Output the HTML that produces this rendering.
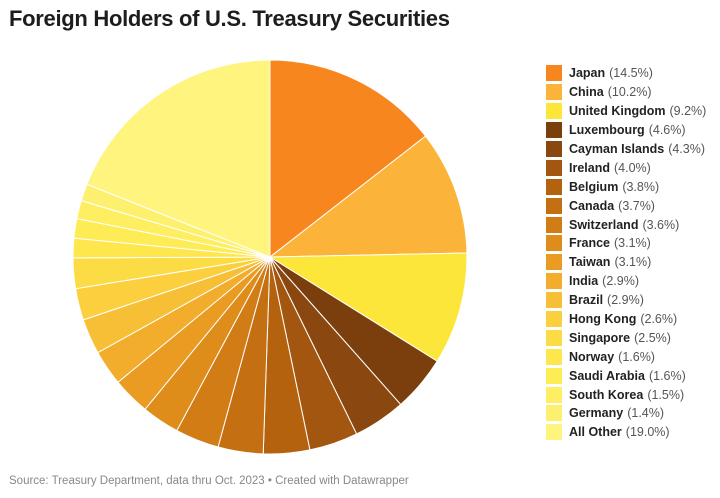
<!DOCTYPE html>
<html><head><meta charset="utf-8"><style>
body{margin:0;width:720px;height:498px;background:#fff;font-family:"Liberation Sans",sans-serif;overflow:hidden;position:relative}
h1{position:absolute;left:9px;top:6px;margin:0;font-size:22px;font-weight:bold;color:#1d1d1d;letter-spacing:-0.3px}
.src{position:absolute;left:9px;top:475px;font-size:11.5px;color:#888}
.leg{position:absolute;left:546px;top:64px}
.row{height:18.9px;display:flex;align-items:center;font-size:12.5px;color:#333}
.sw{width:16px;height:16px;margin-right:7px}
.row b{color:#222;margin-right:4px}
.row span{color:#555}
</style></head><body>
<h1>Foreign Holders of U.S. Treasury Securities</h1>
<svg id="pie" width="720" height="498" style="position:absolute;left:0;top:0"></svg>
<div class="leg" id="leg"></div>
<div class="src">Source: Treasury Department, data thru Oct. 2023 • Created with Datawrapper</div>
<script>
var d=[["Japan",14.5,"#f7861f"],["China",10.2,"#fbb33a"],["United Kingdom",9.2,"#fde63a"],["Luxembourg",4.6,"#7a3f0c"],["Cayman Islands",4.3,"#8a4810"],["Ireland",4.0,"#a3560f"],["Belgium",3.8,"#b5620f"],["Canada",3.7,"#c46f12"],["Switzerland",3.6,"#d27c15"],["France",3.1,"#de8c1a"],["Taiwan",3.1,"#e99b22"],["India",2.9,"#f2ad2c"],["Brazil",2.9,"#f7bf36"],["Hong Kong",2.6,"#fbcf3e"],["Singapore",2.5,"#fcdc44"],["Norway",1.6,"#fde74c"],["Saudi Arabia",1.6,"#fdec55"],["South Korea",1.5,"#feee62"],["Germany",1.4,"#fef06f"],["All Other",19.0,"#fef47e"]];
var cx=270,cy=257,r=197,tot=100.1,a=0,s="",l="";
d.forEach(function(e){var a1=a+e[1]/tot*2*Math.PI;
var x0=cx+r*Math.sin(a),y0=cy-r*Math.cos(a),x1=cx+r*Math.sin(a1),y1=cy-r*Math.cos(a1);
s+='<path d="M'+cx+','+cy+'L'+x0+','+y0+'A'+r+','+r+' 0 '+((a1-a)>Math.PI?1:0)+' 1 '+x1+','+y1+'Z" fill="'+e[2]+'" stroke="#fff" stroke-width="1"/>';
a=a1;
l+='<div class="row"><div class="sw" style="background:'+e[2]+'"></div><b>'+e[0]+'</b><span>('+e[1].toFixed(1)+'%)</span></div>';});
document.getElementById("pie").innerHTML=s;document.getElementById("leg").innerHTML=l;
</script>
</body></html>
